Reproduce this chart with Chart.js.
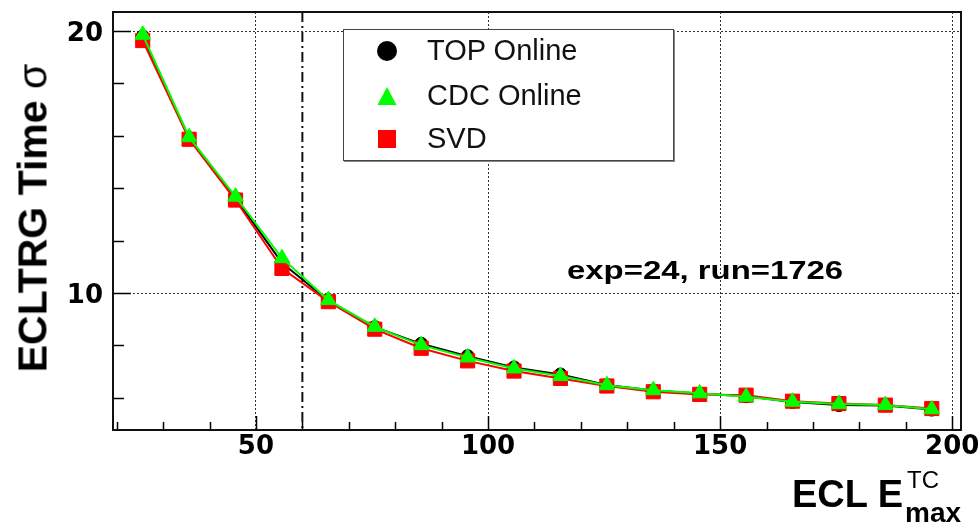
<!DOCTYPE html>
<html>
<head>
<meta charset="utf-8">
<script src="https://cdn.jsdelivr.net/npm/chart.js@4/dist/chart.umd.min.js"></script>
<style>
  html, body { margin: 0; padding: 0; background: #fff; }
  #wrap { position: relative; width: 978px; height: 525px; overflow: hidden; }
  canvas { position: absolute; left: 0; top: 0; }
  .t { position: absolute; white-space: nowrap; line-height: 1; color: #000; font-family: "Liberation Sans", Arial, sans-serif; }
  #legend { position: absolute; left: 343px; top: 29px; width: 331px; height: 132px; background: #fff;
            border: 1.5px solid #444; box-sizing: border-box; box-shadow: 1px 1px 0 #888; }
  .lt { position: absolute; left: 83px; font-size: 29px; line-height: 1; color: #111; font-family: "Liberation Sans", Arial, sans-serif; white-space: nowrap; }
  .lm { position: absolute; left: 32px; width: 22px; height: 22px; }
</style>
</head>
<body>
<div id="wrap">
  <canvas id="c" width="978" height="525"></canvas>
  <div id="legend">
    <svg class="lm" style="top:10px" viewBox="0 0 22 22"><circle cx="11" cy="11" r="10" fill="#000"/></svg>
    <div class="lt" style="top:6px">TOP Online</div>
    <svg class="lm" style="top:55px" viewBox="0 0 22 22"><polygon points="11,2 20.5,20 1.5,20" fill="#00ff00"/></svg>
    <div class="lt" style="top:51px">CDC Online</div>
    <svg class="lm" style="top:98px" viewBox="0 0 22 22"><rect x="2" y="2" width="18" height="18" fill="#ff0000"/></svg>
    <div class="lt" style="top:94px">SVD</div>
  </div>
  <div class="t" id="ann" style="left:567px; top:258px; font-size:25.5px; font-weight:bold; transform: scaleX(1.29); transform-origin: left top;">exp=24, run=1726</div>
  <div class="t" id="ytitle" style="left:33px; top:218px; font-size:41px; font-weight:bold; transform: translate(-50%,-50%) rotate(-90deg);">ECLTRG Time <span style="font-weight:normal">σ</span></div>
  <div class="t" style="left:792px; top:475px; font-size:38px; font-weight:bold;">ECL E</div>
  <div class="t" style="left:907px; top:468px; font-size:24px;">TC</div>
  <div class="t" style="left:905px; top:499px; font-size:28px; font-weight:bold;">max</div>
</div>
<script>
// ---- data ----
const xValues   = [25.6, 35.6, 45.6, 55.6, 65.6, 75.6, 85.6, 95.6, 105.6, 115.6, 125.6, 135.6, 145.6, 155.6, 165.6, 175.6, 185.6, 195.6];
const topOnline = [19.80, 15.92, 13.62, 11.15, 9.71, 8.70, 8.06, 7.59, 7.16, 6.89, 6.49, 6.28, 6.16, 6.06, 5.84, 5.72, 5.71, 5.55];
const cdcOnline = [19.86, 15.95, 13.68, 11.33, 9.73, 8.71, 8.01, 7.54, 7.12, 6.83, 6.48, 6.29, 6.17, 6.04, 5.85, 5.76, 5.72, 5.56];
const svd       = [19.64, 15.87, 13.55, 10.94, 9.67, 8.62, 7.89, 7.41, 7.02, 6.74, 6.45, 6.23, 6.13, 6.10, 5.87, 5.78, 5.72, 5.59];

const xTickValues   = [20, 30, 40, 50, 60, 70, 80, 90, 100, 110, 120, 130, 140, 150, 160, 170, 180, 190, 200];
const xTickLabelled = [50, 100, 150, 200];
const yTickValues   = [6, 8, 10, 12, 14, 16, 18, 20];
const yTickLabelled = [10, 20];
const cutLine       = 60;   // dash-dotted vertical marker

const toPts = ys => xValues.map((x, i) => ({ x: x, y: ys[i] }));

const framePlugin = {
  id: 'rootFrame',
  beforeDatasetsDraw(chart) {
    const { ctx, chartArea: a, scales } = chart;
    const px = scales.x.getPixelForValue(cutLine);
    ctx.save();
    ctx.strokeStyle = '#111';
    ctx.lineWidth = 2;
    ctx.setLineDash([10, 4, 2, 4]);
    ctx.beginPath();
    ctx.moveTo(px, a.top);
    ctx.lineTo(px, a.bottom);
    ctx.stroke();
    ctx.restore();
  },
  afterDatasetsDraw(chart) {
    const { ctx, chartArea: a, scales } = chart;
    ctx.save();
    ctx.strokeStyle = '#000';
    ctx.lineWidth = 1.5;
    ctx.beginPath();
    yTickValues.forEach(v => {
      const py = Math.round(scales.y.getPixelForValue(v)) + 0.5;
      const len = yTickLabelled.includes(v) ? 18 : 11;
      ctx.moveTo(a.left, py);
      ctx.lineTo(a.left + len, py);
    });
    xTickValues.forEach(v => {
      const px = Math.round(scales.x.getPixelForValue(v)) + 0.5;
      const len = xTickLabelled.includes(v) ? 14 : 8;
      ctx.moveTo(px, a.bottom);
      ctx.lineTo(px, a.bottom - len);
    });
    ctx.stroke();
    ctx.lineWidth = 2;
    ctx.strokeStyle = '#111';
    ctx.strokeRect(a.left, a.top, a.right - a.left, a.bottom - a.top);
    ctx.restore();
  }
};

const tickFont = { family: '"DejaVu Sans", sans-serif', size: 26, weight: 'bold' };
const gridColor = list => ctx => (ctx.tick && list.includes(ctx.tick.value)) ? '#333' : 'rgba(0,0,0,0)';
const noPad = s => { s.paddingTop = 0; s.paddingBottom = 0; s.paddingLeft = 0; s.paddingRight = 0; };

new Chart(document.getElementById('c'), {
  type: 'line',
  data: {
    datasets: [
      { label: 'TOP Online', data: toPts(topOnline), order: 2,
        borderColor: '#000', backgroundColor: '#000', borderWidth: 2,
        pointStyle: 'circle', pointRadius: 6.5, pointBorderWidth: 1, tension: 0 },
      { label: 'CDC Online', data: toPts(cdcOnline), order: 0,
        borderColor: '#00ff00', backgroundColor: '#00ff00', borderWidth: 2,
        pointStyle: 'triangle', pointRadius: 9, pointBorderWidth: 1, tension: 0 },
      { label: 'SVD', data: toPts(svd), order: 1,
        borderColor: '#ff0000', backgroundColor: '#ff0000', borderWidth: 2,
        pointStyle: 'rect', pointRadius: 10, pointBorderWidth: 1, tension: 0 }
    ]
  },
  options: {
    responsive: false,
    animation: false,
    devicePixelRatio: 1,
    events: [],
    layout: { padding: { left: 0, top: 12, right: 17, bottom: 0 } },
    plugins: { legend: { display: false }, tooltip: { enabled: false }, title: { display: false } },
    scales: {
      x: {
        type: 'linear', min: 19.2, max: 201.9,
        afterBuildTicks: s => { s.ticks = xTickValues.map(v => ({ value: v })); },
        afterFit: s => { s.height = 95; noPad(s); },
        ticks: {
          autoSkip: false, maxRotation: 0, padding: 2, color: '#000', font: tickFont,
          callback: v => xTickLabelled.includes(v) ? String(v) : ''
        },
        grid: { drawTicks: false, lineWidth: 1, color: gridColor([50, 100, 150, 200]), borderDash: [2, 2] },
        border: { display: false, dash: [2, 2] }
      },
      y: {
        type: 'linear', min: 4.77, max: 20.73,
        afterBuildTicks: s => { s.ticks = yTickValues.map(v => ({ value: v })); },
        afterFit: s => { s.width = 113; noPad(s); },
        ticks: {
          autoSkip: false, padding: 10, color: '#000', font: tickFont, labelOffset: 3,
          callback: v => yTickLabelled.includes(v) ? String(v) : ''
        },
        grid: { drawTicks: false, lineWidth: 1, color: gridColor([10, 20]), borderDash: [2, 2] },
        border: { display: false, dash: [2, 2] }
      }
    }
  },
  plugins: [framePlugin]
});
</script>
</body>
</html>
